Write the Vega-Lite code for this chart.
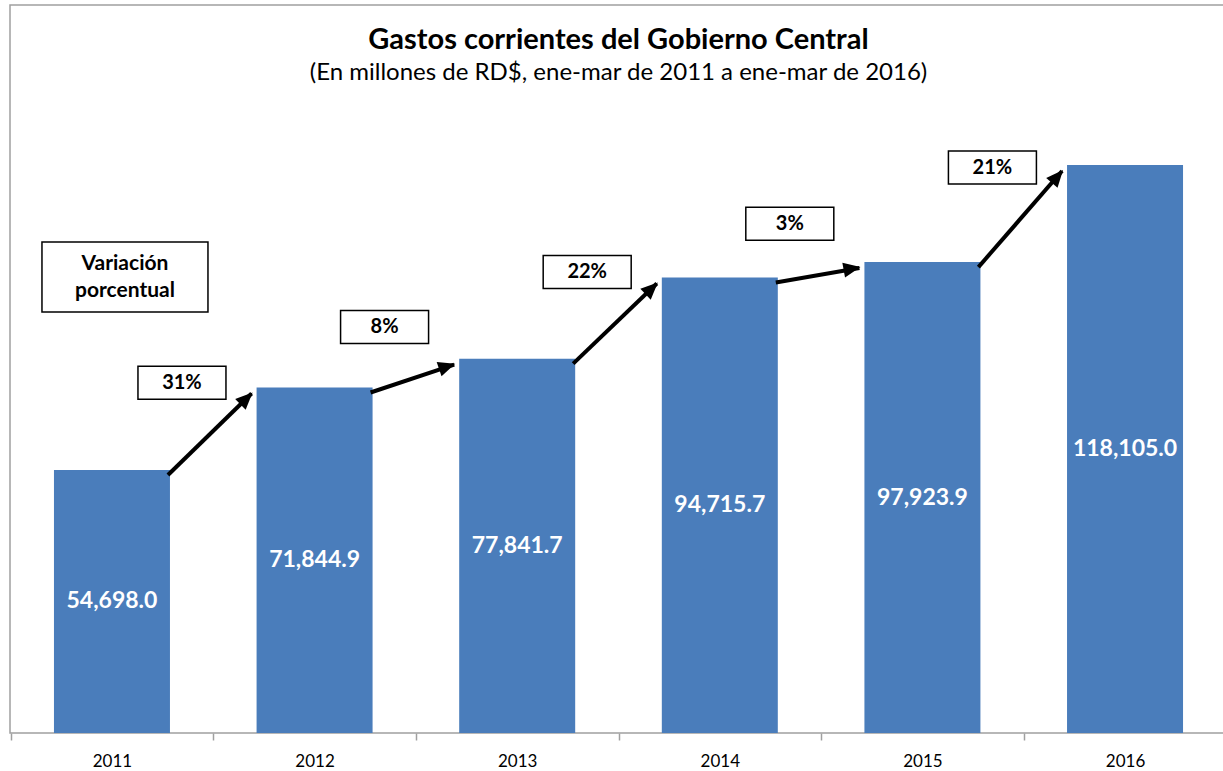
{
  "$schema": "https://vega.github.io/schema/vega-lite/v6.json",
  "autosize": "none",
  "width": 1217,
  "height": 728,
  "padding": {"left": 10, "top": 5, "right": 0, "bottom": 38},
  "background": "white",
  "config": {
    "font": "Lato",
    "view": {"stroke": "#a0a0a0", "strokeWidth": 1.5}
  },
  "title": {
    "text": "Gastos corrientes del Gobierno Central",
    "subtitle": "(En millones de RD$, ene-mar de 2011 a ene-mar de 2016)",
    "anchor": "middle",
    "frame": "group",
    "orient": "top",
    "offset": -80,
    "font": "Lato",
    "fontSize": 29,
    "fontWeight": "bold",
    "color": "black",
    "subtitleFont": "Lato",
    "subtitleFontSize": 24,
    "subtitleColor": "black",
    "subtitlePadding": 6
  },
  "data": {
    "values": [
      {"year": "2011", "value": 54698.0, "prev": null, "pct": null},
      {"year": "2012", "value": 71844.9, "prev": "2011", "pct": "31%"},
      {"year": "2013", "value": 77841.7, "prev": "2012", "pct": "8%"},
      {"year": "2014", "value": 94715.7, "prev": "2013", "pct": "22%"},
      {"year": "2015", "value": 97923.9, "prev": "2014", "pct": "3%"},
      {"year": "2016", "value": 118105.0, "prev": "2015", "pct": "21%"}
    ]
  },
  "transform": [
    {"window": [{"op": "lag", "field": "value", "as": "prevValue"}], "sort": [{"field": "year"}]},
    {"calculate": "datum.value / 2", "as": "half"},
    {"calculate": "(datum.value + datum.prevValue) / 2", "as": "mid"}
  ],
  "layer": [
    {
      "mark": {"type": "bar", "color": "#4a7dbb"},
      "encoding": {
        "x": {
          "field": "year", "type": "ordinal",
          "scale": {"paddingInner": 0.4275, "paddingOuter": 0.217},
          "axis": {
            "title": null, "labelAngle": 0, "domain": false,
            "ticks": true, "tickSize": 7, "tickColor": "#a0a0a0", "tickWidth": 1.5,
            "tickOffset": -101.3, "labelOffset": 101.3, "tickExtra": true,
            "labelFont": "Lato", "labelFontSize": 17, "labelColor": "black", "labelPadding": 13
          }
        },
        "y": {"field": "value", "type": "quantitative", "scale": {"domain": [0, 151380], "nice": false}, "axis": null}
      }
    },
    {
      "mark": {"type": "text", "color": "white", "fontWeight": "bold", "fontSize": 23, "font": "Lato", "baseline": "middle"},
      "encoding": {
        "x": {"field": "year", "type": "ordinal"},
        "y": {"field": "half", "type": "quantitative"},
        "text": {"field": "value", "type": "quantitative", "format": ",.1f"}
      }
    },
    {
      "transform": [{"filter": "datum.prev != null"}],
      "mark": {"type": "rule", "color": "black", "strokeWidth": 4, "xOffset": -2, "yOffset": 5, "x2Offset": -5, "y2Offset": 6},
      "encoding": {
        "x": {"field": "prev", "type": "ordinal", "bandPosition": 1},
        "x2": {"field": "year", "bandPosition": 0},
        "y": {"field": "prevValue", "type": "quantitative"},
        "y2": {"field": "value"}
      }
    },
    {
      "transform": [{"filter": "datum.prev != null"}],
      "mark": {"type": "point", "shape": "M0,0L0.75,1.7L-0.75,1.7Z", "size": 400, "filled": true, "color": "black", "opacity": 1, "xOffset": -4, "yOffset": 5},
      "encoding": {
        "x": {"field": "year", "type": "ordinal", "bandPosition": 0},
        "y": {"field": "value", "type": "quantitative"},
        "angle": {
          "field": "year", "type": "ordinal",
          "scale": {"type": "ordinal", "domain": ["2012", "2013", "2014", "2015", "2016"], "range": [45.7, 71.2, 46.2, 79.7, 41.1]},
          "legend": null
        }
      }
    },
    {
      "transform": [{"filter": "datum.prev != null"}],
      "mark": {"type": "point", "shape": "M-1,-0.375H1V0.375H-1Z", "size": 7744, "filled": true, "fill": "white", "stroke": "black", "strokeWidth": 1.5, "opacity": 1, "xOffset": 12, "yOffset": -46},
      "encoding": {
        "x": {"field": "prev", "type": "ordinal", "bandPosition": 1},
        "y": {"field": "mid", "type": "quantitative"}
      }
    },
    {
      "transform": [{"filter": "datum.prev != null"}],
      "mark": {"type": "text", "color": "black", "fontWeight": "bold", "fontSize": 20, "font": "Lato", "baseline": "middle", "xOffset": 12, "yOffset": -46},
      "encoding": {
        "x": {"field": "prev", "type": "ordinal", "bandPosition": 1},
        "y": {"field": "mid", "type": "quantitative"},
        "text": {"field": "pct", "type": "nominal"}
      }
    },
    {
      "transform": [{"filter": "datum.year == '2011'"}],
      "mark": {"type": "point", "shape": "M-1,-0.4217H1V0.4217H-1Z", "size": 27556, "filled": true, "fill": "white", "stroke": "black", "strokeWidth": 1.5, "opacity": 1, "xOffset": 13},
      "encoding": {
        "x": {"field": "year", "type": "ordinal"},
        "y": {"datum": 94800, "type": "quantitative"}
      }
    },
    {
      "transform": [{"filter": "datum.year == '2011'"}],
      "mark": {"type": "text", "color": "black", "fontWeight": "bold", "fontSize": 21, "font": "Lato", "baseline": "middle", "lineHeight": 27, "xOffset": 13, "yOffset": -13, "text": ["Variación", "porcentual"]},
      "encoding": {
        "x": {"field": "year", "type": "ordinal"},
        "y": {"datum": 94800, "type": "quantitative"}
      }
    }
  ]
}
